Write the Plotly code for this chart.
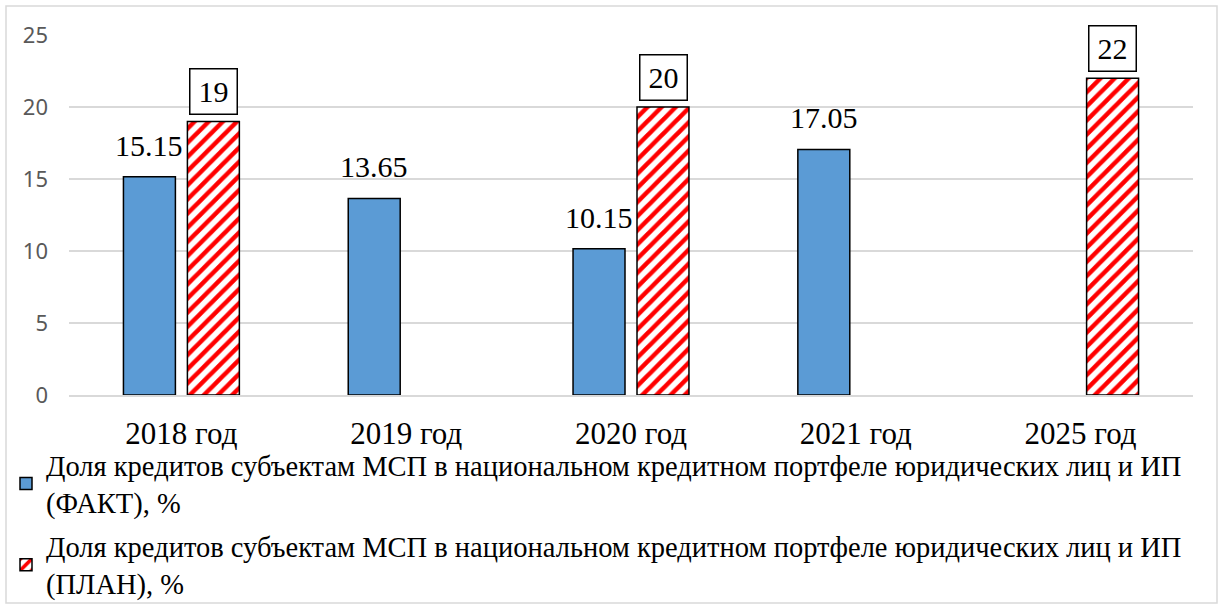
import plotly.graph_objects as go

categories = ["2018 год", "2019 год", "2020 год", "2021 год", "2025 год"]
fact_values = [15.15, 13.65, 10.15, 17.05, None]
plan_values = [19, None, 20, None, 22]
fact_labels = ["15.15", "13.65", "10.15", "17.05", ""]
plan_labels = ["19", "", "20", "", "22"]
y_ticks = [0, 5, 10, 15, 20, 25]
fact_name = "Доля кредитов субъектам МСП в национальном кредитном портфеле юридических лиц и ИП<br>(ФАКТ), %"
plan_name = "Доля кредитов субъектам МСП в национальном кредитном портфеле юридических лиц и ИП<br>(ПЛАН), %"

SERIF = "Liberation Serif, Times New Roman, serif"

fig = go.Figure()
fig.add_trace(go.Bar(
    x=categories, y=fact_values, name=fact_name, legendgroup="f",
    marker=dict(color="#5B9BD5", line=dict(color="black", width=1.5)),
))
fig.add_trace(go.Bar(
    x=categories, y=plan_values, name=plan_name, legendgroup="p",
    marker=dict(color="white", line=dict(color="black", width=1.5),
                pattern=dict(shape="/", fgcolor="#FF0000", bgcolor="white",
                             fgopacity=1, size=10, solidity=0.45, fillmode="replace")),
))

annotations = []
for c, v, t in zip(categories, fact_values, fact_labels):
    if v is not None:
        annotations.append(dict(x=c, y=v, text=t, xref="x", yref="y", showarrow=False,
                                xshift=-32, yanchor="bottom", yshift=13,
                                font=dict(family=SERIF, size=30, color="black")))
for c, v, t in zip(categories, plan_values, plan_labels):
    if v is not None:
        annotations.append(dict(x=c, y=v, text=t, xref="x", yref="y", showarrow=False,
                                xshift=32, yanchor="bottom", yshift=6,
                                width=42, height=40, align="center", valign="middle",
                                bordercolor="black", borderwidth=1.5, borderpad=2,
                                bgcolor="white",
                                font=dict(family=SERIF, size=30, color="black")))

fig.update_layout(
    width=1218, height=604,
    margin=dict(l=69, r=25, t=35, b=209, autoexpand=False),
    paper_bgcolor="white", plot_bgcolor="white",
    barmode="group", bargap=0.431, bargroupgap=0.1875,
    annotations=annotations,
    showlegend=True,
    legend=dict(xref="container", yref="container",
                x=6 / 1218, y=1 - 440 / 604, xanchor="left", yanchor="top",
                orientation="v", tracegroupgap=4,
                font=dict(family=SERIF, size=28.5, color="black"),
                itemwidth=30, bgcolor="rgba(0,0,0,0)"),
    shapes=[dict(type="rect", xref="paper", yref="paper",
                 x0=(6 - 69) / 1124, x1=(1217 - 69) / 1124,
                 y0=(395 - 603) / 360, y1=(395 - 6) / 360,
                 line=dict(color="#D9D9D9", width=1.5), fillcolor="rgba(0,0,0,0)",
                 layer="below")],
)
fig.update_xaxes(
    showgrid=False, showline=True, linecolor="#D9D9D9", linewidth=1.5,
    tickfont=dict(family=SERIF, size=31, color="black"),
    ticks="", ticklabelstandoff=10, automargin=False,
)
fig.update_yaxes(
    range=[0, 25], tickvals=y_ticks, showgrid=True, gridcolor="#D9D9D9", gridwidth=1.5,
    zeroline=False, showline=False, automargin=False,
    tickfont=dict(family="Noto Sans, DejaVu Sans, sans-serif", size=22, color="#595959"),
    ticklabelstandoff=20,
)

fig.write_html("out.html", config={"displayModeBar": False},
               post_script="document.body.style.margin='0';document.body.style.overflow='hidden';")
